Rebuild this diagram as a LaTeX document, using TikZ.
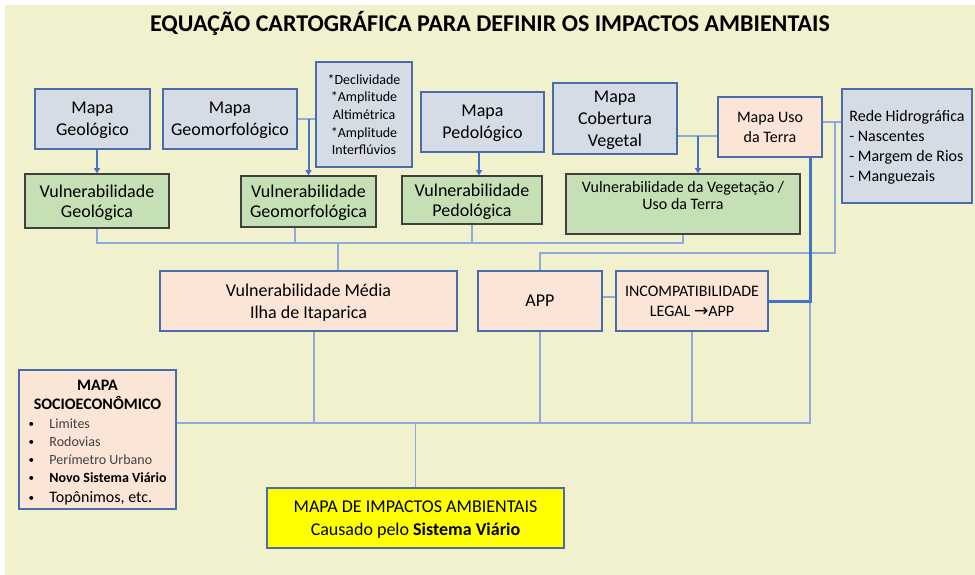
\documentclass[tikz,border=0pt]{standalone}
\usepackage{fontspec}
\setmainfont{Carlito}
\newfontfamily\djv{DejaVu Sans}
\usetikzlibrary{arrows.meta}
\definecolor{bgc}{HTML}{F1F1CD}
\definecolor{bfill}{HTML}{D6DCE5}
\definecolor{bborder}{HTML}{4A6DAA}
\definecolor{gfill}{HTML}{C5E0B4}
\definecolor{gborder}{HTML}{404040}
\definecolor{pfill}{HTML}{FBE5D6}
\definecolor{yfill}{HTML}{FFFF00}
\definecolor{cline}{HTML}{8FAADC}
\definecolor{aline}{HTML}{4472C4}
\definecolor{graytxt}{HTML}{404040}
\newcommand{\bul}{\makebox[21pt][l]{\fontsize{11}{11}\selectfont\raisebox{0.5pt}{•}}}
\tikzset{
  box/.style={draw, line width=1.5pt, rectangle, inner sep=0pt, align=center, text=black},
  bluebox/.style={box, draw=bborder, fill=bfill},
  greenbox/.style={box, draw=gborder, fill=gfill},
  peachbox/.style={box, draw=bborder, fill=pfill},
  yelbox/.style={box, draw=bborder, fill=yfill},
  conn/.style={draw=cline, line width=1.2pt},
  arr/.style={draw=aline, line width=2pt, -{Triangle[width=6pt,length=5pt]}},
  thickline/.style={draw=aline, line width=3pt},
  fa/.style={font=\fontsize{18}{22}\selectfont, text depth=0pt},
  fb/.style={font=\fontsize{18}{20}\selectfont, text depth=0pt},
  fc/.style={font=\fontsize{16}{20}\selectfont, text depth=0pt},
  fd/.style={font=\fontsize{14}{17.7}\selectfont, text depth=0pt},
}
\begin{document}
\begin{tikzpicture}[x=1pt,y=-1pt]
\path[fill=white] (0,0) rectangle (975,575);
\fill[bgc] (5,5) rectangle (975,575);
\useasboundingbox (0,0) rectangle (975,575);

\node[font=\bfseries\fontsize{24}{28}\selectfont] (title) at (490,23) {EQUAÇÃO CARTOGRÁFICA PARA DEFINIR OS IMPACTOS AMBIENTAIS};

% top row
\node[bluebox, fa, minimum width=115pt, minimum height=60pt] (geo) at (92.5,119) {Mapa\\Geológico};
\node[bluebox, fa, minimum width=134pt, minimum height=60pt] (geomorf) at (230,119) {Mapa\\Geomorfológico};
\node[bluebox, fd, minimum width=96pt, minimum height=105pt] (decl) at (364,114.5) {*Declividade\\*Amplitude\\Altimétrica\\*Amplitude\\Interflúvios};
\node[bluebox, fa, minimum width=123pt, minimum height=60pt] (ped) at (482.5,122) {Mapa\\Pedológico};
\node[bluebox, fa, minimum width=124pt, minimum height=71pt] (cob) at (615,118.5) {Mapa\\Cobertura\\Vegetal};
\node[peachbox, fc, minimum width=104pt, minimum height=60pt] (uso) at (770,127) {Mapa Uso\\da Terra};
\node[bluebox, fc, align=left, minimum width=130pt, minimum height=114pt] (rede) at (907,146) {Rede Hidrográfica\\- Nascentes\\- Margem de Rios\\- Manguezais};

% vulnerability row
\node[greenbox, fb, minimum width=144pt, minimum height=54pt] (vgeo) at (97,201) {Vulnerabilidade\\Geológica};
\node[greenbox, fb, minimum width=135pt, minimum height=51pt] (vgeom) at (308.5,201.5) {Vulnerabilidade\\Geomorfológica};
\node[greenbox, fb, minimum width=140pt, minimum height=48pt] (vped) at (472,200) {Vulnerabilidade\\Pedológica};
\node[greenbox, minimum width=234pt, minimum height=60pt] (vveg) at (683,204) {\parbox[c][60pt][t]{230pt}{\centering\fontsize{16}{17}\selectfont\rule{0pt}{19pt}Vulnerabilidade da Vegetação /\\Uso da Terra}};

% middle row
\node[peachbox, fa, minimum width=297pt, minimum height=60pt] (vmed) at (308.5,301) {Vulnerabilidade Média\\Ilha de Itaparica};
\node[peachbox, fa, minimum width=124pt, minimum height=60pt] (app) at (540,301) {APP};
\node[peachbox, fc, minimum width=152pt, minimum height=60pt] (inc) at (692,301) {\fontsize{16}{21}\selectfont INCOMPATIBILIDADE\\LEGAL {\djv\fontsize{17}{21}\selectfont →}APP};

% socio
\node[peachbox, minimum width=157pt, minimum height=139pt] (socio) at (97.5,439.5) {\parbox[c][139pt][t]{150pt}{%
  \centering\bfseries\fontsize{16}{19}\selectfont\rule{0pt}{20pt}MAPA\\SOCIOECONÔMICO\par
  \vspace{1pt}%
  \raggedright\mdseries
  \fontsize{14}{18}\selectfont
  \hspace*{6pt}\bul{\color{graytxt}Limites}\\
  \hspace*{6pt}\bul{\color{graytxt}Rodovias}\\
  \hspace*{6pt}\bul{\color{graytxt}Perímetro Urbano}\\
  \hspace*{6pt}\bul{\bfseries Novo Sistema Viário}\\[2pt]
  {\fontsize{16}{18}\selectfont\hspace*{6pt}\bul Topônimos, etc.}\par}};

% final
\node[yelbox, font=\fontsize{18}{23}\selectfont, text depth=0pt, minimum width=297pt, minimum height=60pt] (final) at (415.5,518) {MAPA DE IMPACTOS AMBIENTAIS\\Causado pelo \textbf{Sistema Viário}};

% connectors top
\draw[conn] (geomorf.east) -- (geomorf.east -| decl.west);
\coordinate (cj) at (698,136);
\draw[conn] (cj -| cob.east) -- (cj -| uso.west);
\coordinate (uj) at (835,122);
\draw[conn] (uj -| uso.east) -- (uj -| rede.west);
\coordinate (ul) at (835,253);
\draw[conn] (uj) -- (ul) -| (app.north);

% arrows
\draw[arr] (vgeo.north |- geo.south) -- (vgeo.north);
\draw[arr] (vgeom.north |- geomorf.east) -- (vgeom.north);
\coordinate (pa) at (479,200);
\draw[arr] (pa |- ped.south) -- (pa |- vped.north);
\draw[arr] (cj) -- (cj |- vveg.north);

% bus below vulnerability
\coordinate (tb) at (338,243);
\draw[conn] (vgeo.south) |- (tb -| vveg.south) -- (vveg.south);
\coordinate (g2) at (295,243);
\draw[conn] (g2 |- vgeom.south) -- (g2);
\draw[conn] (vped.south) -- (vped.south |- tb);
\draw[conn] (tb) -- (tb |- vmed.north);

% middle
\coordinate (ai) at (610,297);
\draw[conn] (ai -| app.east) -- (ai -| inc.west);
\coordinate (tk) at (810,301);
\coordinate (br) at (810,423);
\draw[conn] (tk) -- (br) -- (br -| socio.east);
\coordinate (vm) at (314,423);
\draw[conn] (vm |- vmed.south) -- (vm);
\draw[conn] (app.south) -- (app.south |- br);
\draw[conn] (inc.south) -- (inc.south |- br);
\draw[conn] (final.north |- br) -- (final.north);
\draw[thickline] (tk |- uso.south) -- (tk) -- (tk -| inc.east);
\end{tikzpicture}
\end{document}
